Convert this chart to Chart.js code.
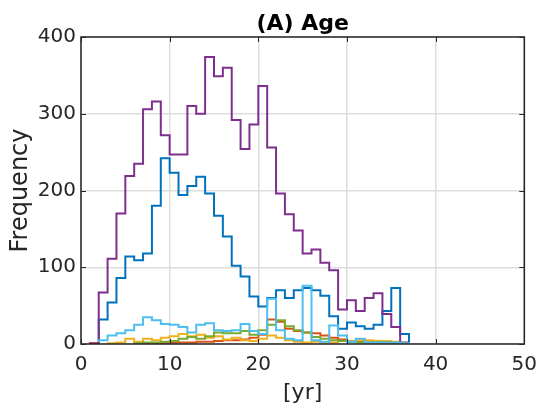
<!DOCTYPE html>
<html>
<head>
<meta charset="utf-8">
<script src="https://cdn.jsdelivr.net/npm/chart.js@4.4.1/dist/chart.umd.min.js"></script>
<style>
  html, body { margin: 0; padding: 0; background: #ffffff; }
  #wrap { width: 546px; height: 413px; }
</style>
</head>
<body>
<div id="wrap"><canvas id="c" width="546" height="413"></canvas></div>
<script>
// Bin edges: bins are [1,2), [2,3), ... , [36,37)  (years)
const firstBinEdge = 1;
const xTicks = [0, 10, 20, 30, 40, 50];
const yTicks = [0, 100, 200, 300, 400];

// Counts per 1-yr bin, starting at bin [1,2)
const blueCounts = [0, 32, 54, 86, 114, 109, 118, 180, 242, 223, 194, 206, 218, 196, 167, 140, 102, 88, 62, 49, 60, 70, 60, 70, 73, 70, 63, 36, 20, 28, 23, 20, 25, 43, 73, 13];
const orangeCounts = [0, 0, 0, 0, 0, 0, 1, 1, 1, 2, 2, 2, 3, 3, 4, 5, 5, 6, 8, 12, 32, 29, 20, 17, 15, 14, 11, 8, 6, 3, 3, 2, 2, 2, 1, 1];
const yellowCounts = [0, 0, 1, 2, 7, 3, 7, 5, 8, 10, 13, 10, 12, 8, 10, 6, 8, 5, 4, 7, 11, 8, 5, 3, 2, 3, 2, 2, 4, 4, 5, 5, 4, 4, 3, 1];
const purpleCounts = [0, 67, 111, 170, 219, 235, 306, 316, 272, 247, 247, 310, 300, 374, 349, 360, 292, 254, 286, 336, 256, 196, 169, 148, 118, 123, 106, 96, 45, 57, 43, 60, 66, 39, 22, 2];
const greenCounts = [0, 0, 0, 0, 0, 1, 2, 2, 3, 4, 7, 9, 7, 10, 15, 14, 14, 17, 12, 18, 25, 31, 23, 18, 15, 9, 7, 5, 4, 3, 2, 2, 2, 2, 1, 1];
const lightBlueCounts = [0, 5, 11, 14, 18, 25, 35, 31, 26, 25, 22, 15, 25, 27, 18, 17, 18, 26, 17, 13, 59, 18, 7, 5, 76, 5, 3, 24, 11, 3, 7, 2, 2, 2, 2, 1];
const darkRedCounts = [1];

// Build stair outline points from the counts (MATLAB 'stairs' histogram look)
function stairs(counts) {
  let i0 = counts.findIndex(v => v > 0);
  let i1 = counts.length - 1;
  while (i1 > 0 && counts[i1] <= 0) i1--;
  const pts = [{ x: firstBinEdge + i0, y: 0 }];
  for (let k = i0; k <= i1; k++) pts.push({ x: firstBinEdge + k, y: counts[k] });
  pts.push({ x: firstBinEdge + i1 + 1, y: 0 });
  return pts;
}

function ds(counts, color) {
  return {
    data: stairs(counts),
    borderColor: color,
    backgroundColor: color,
    borderWidth: 2,
    pointRadius: 0,
    showLine: true,
    stepped: 'before',
    fill: false,
    tension: 0
  };
}

const FONT = "'DejaVu Sans', sans-serif";
const AXIS = '#262626';

const boxPlugin = {
  id: 'matlabBox',
  afterDraw(chart) {
    const { ctx, chartArea: a, scales: { x, y } } = chart;
    ctx.save();
    ctx.strokeStyle = AXIS;
    ctx.lineWidth = 1.5;
    ctx.beginPath();
    ctx.rect(a.left, a.top, a.right - a.left, a.bottom - a.top);
    ctx.stroke();
    // inward tick marks
    const L = 5;
    ctx.lineWidth = 1;
    ctx.beginPath();
    xTicks.forEach(v => {
      const px = Math.round(x.getPixelForValue(v)) + 0.5;
      ctx.moveTo(px, a.bottom); ctx.lineTo(px, a.bottom - L);
      ctx.moveTo(px, a.top); ctx.lineTo(px, a.top + L);
    });
    yTicks.forEach(v => {
      const py = Math.round(y.getPixelForValue(v)) + 0.5;
      ctx.moveTo(a.left, py); ctx.lineTo(a.left + L, py);
      ctx.moveTo(a.right, py); ctx.lineTo(a.right - L, py);
    });
    ctx.stroke();
    // title, centred over the axes
    ctx.fillStyle = '#000000';
    ctx.font = "bold 22px " + FONT;
    ctx.textAlign = 'center';
    ctx.textBaseline = 'alphabetic';
    ctx.fillText('(A) Age', (a.left + a.right) / 2, 30);
    ctx.restore();
  }
};

new Chart(document.getElementById('c'), {
  type: 'scatter',
  data: {
    datasets: [
      ds(darkRedCounts, '#A2142F'),
      ds(lightBlueCounts, '#4DBEEE'),
      ds(greenCounts, '#77AC30'),
      ds(purpleCounts, '#7E2F8E'),
      ds(yellowCounts, '#EDB120'),
      ds(orangeCounts, '#D95319'),
      ds(blueCounts, '#0072BD')
    ]
  },
  options: {
    responsive: false,
    animation: false,
    devicePixelRatio: 1,
    layout: { padding: { top: 37, right: 18, left: 0, bottom: 0 } },
    plugins: { legend: { display: false }, tooltip: { enabled: false }, title: { display: false } },
    scales: {
      x: {
        type: 'linear', min: 0, max: 50,
        afterBuildTicks: s => { s.ticks = xTicks.map(v => ({ value: v })); },
        afterFit: s => { s.height = 69; },
        grid: { color: '#dddddd', lineWidth: 1.5, drawTicks: false },
        border: { display: false },
        ticks: { color: AXIS, font: { family: FONT, size: 20 }, padding: 9, maxRotation: 0 },
        title: { display: true, text: '[yr]', color: AXIS, font: { family: FONT, size: 22 }, padding: { top: 0, bottom: 7 } }
      },
      y: {
        type: 'linear', min: 0, max: 400,
        afterBuildTicks: s => { s.ticks = yTicks.map(v => ({ value: v })); },
        afterFit: s => { s.width = 81; },
        grid: { color: '#dddddd', lineWidth: 1.5, drawTicks: false },
        border: { display: false },
        ticks: { color: AXIS, font: { family: FONT, size: 20 }, padding: 5 },
        title: { display: true, text: 'Frequency', color: AXIS, font: { family: FONT, size: 24 }, padding: { top: 6, bottom: 0 } }
      }
    }
  },
  plugins: [boxPlugin]
});
</script>
</body>
</html>
